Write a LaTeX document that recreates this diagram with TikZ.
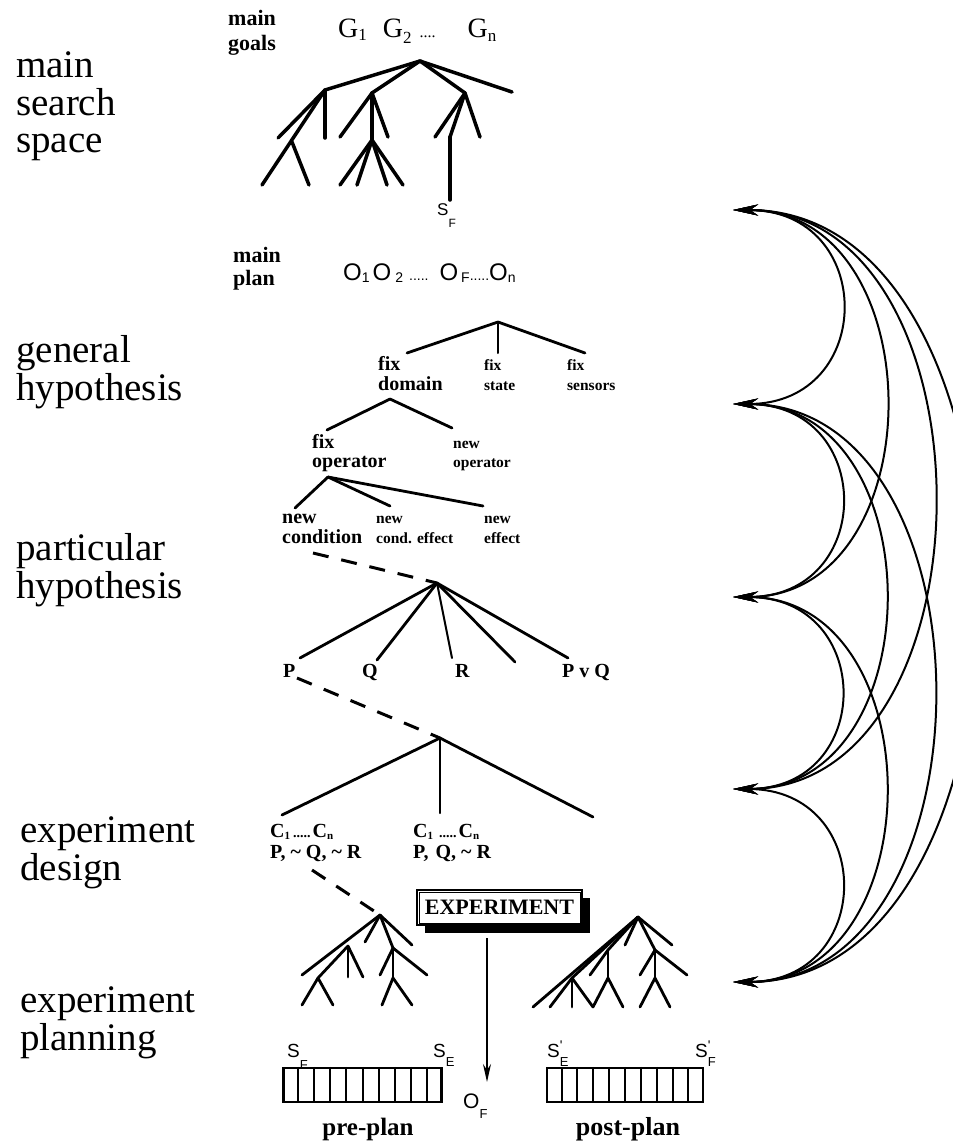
\documentclass[tikz,border=0pt]{standalone}
\usepackage{fontspec}
\setmainfont{Liberation Serif}
\newfontfamily\sansf{Liberation Sans}
\usetikzlibrary{arrows.meta,calc,shadows}
\newcommand\fs[2]{\fontsize{#1}{#2}\selectfont}
\newcommand\lo[3]{\raisebox{-#1}{\fs{#2}{#2}#3}}
\newcommand\stk[1]{\begin{tabular}[t]{@{}l@{}}#1\end{tabular}}
\begin{document}
\begin{tikzpicture}[x=1pt,y=-1pt,
  lbl/.style={anchor=base west,inner sep=0pt,font=\fs{39}{37}},
  bigb/.style={anchor=base west,inner sep=0pt,font=\bfseries\fs{20}{20}},
  smlb/.style={anchor=base west,inner sep=0pt,font=\bfseries\fs{15.5}{20}},
  sym/.style={anchor=base west,inner sep=0pt},
  tr/.style={line width=3.5pt,line cap=round},
  hy/.style={line width=2.8pt,line cap=round},
  thin/.style={line width=2pt,line cap=round},
  dsh/.style={line width=3pt,dash pattern=on 16pt off 13pt},
  arc/.style={line width=2pt,{Stealth[length=25pt,width=11pt]}-{Stealth[length=25pt,width=11pt]}},
  plan/.style={draw,line width=2.5pt,minimum width=158pt,minimum height=34pt,inner sep=0pt},
  expbox/.style={draw,line width=2pt,fill=white,minimum width=165pt,minimum height=35pt,inner sep=0pt,
    font=\bfseries\fs{22}{22},drop shadow={fill=black,opacity=1,shadow xshift=8pt,shadow yshift=-8pt}}]
\useasboundingbox (0,0) rectangle (953,1144);
\fill[white] (0,0) rectangle (953,1144);
\clip (0,0) rectangle (953,1144);

% ---------- left labels
\node[lbl] (lmain) at (16,77) {\stk{main\\search\\space}};
\node[lbl] (lgen) at (16,362) {\stk{general\\hypothesis}};
\node[lbl] (lpart) at (16,560) {\stk{particular\\hypothesis}};
\node[lbl] (lexd) at (20,842) {\stk{experiment\\design}};
\node[lbl] (lexp) at (20,1012) {\stk{experiment\\planning}};

% ---------- main search space
\node[sym,font=\bfseries\fs{22}{25}] (mgoals) at (228,25) {\stk{main\\goals}};
\node[sym,font=\fs{28}{28}] (gs) at (338,37) {G\lo{3pt}{17}{1}\hspace{16pt}G\lo{6pt}{17}{2}\hspace{8pt}{\fs{16}{16}....}\hspace{32pt}G\lo{4pt}{17}{n}};
\coordinate (t0) at (420,61);
\coordinate (ta) at (325,90); \coordinate (tc) at (372,93);
\coordinate (te) at (465,93); \coordinate (tr) at (512,92);
\coordinate (ta1) at (278,138); \coordinate (tb) at (292,142); \coordinate (ta3) at (325,138);
\coordinate (tb1) at (262,185); \coordinate (tb2) at (309,185);
\coordinate (tc1) at (340,137); \coordinate (td) at (372,140); \coordinate (tc3) at (388,137);
\coordinate (td1) at (340,185); \coordinate (td2) at (357,185); \coordinate (td3) at (387,185); \coordinate (td4) at (403,185);
\coordinate (te1) at (435,137); \coordinate (tf) at (450,137); \coordinate (te3) at (480,137);
\coordinate (tsf) at (450,200);
\draw[tr] (t0) -- (ta); \draw[tr] (t0) -- (tc); \draw[tr] (t0) -- (te); \draw[tr] (t0) -- (tr);
\draw[tr] (ta) -- (ta1); \draw[tr] (ta) -- (tb1); \draw[tr] (tb) -- (tb2); \draw[tr] (ta) -- (ta3);
\draw[tr] (tc) -- (tc1); \draw[tr] (tc) -- (td); \draw[tr] (tc) -- (tc3);
\draw[tr] (td) -- (td1); \draw[tr] (td) -- (td2); \draw[tr] (td) -- (td3); \draw[tr] (td) -- (td4);
\draw[tr] (te) -- (te1); \draw[tr] (te) -- (tf); \draw[tr] (te) -- (te3);
\draw[tr] (tf) -- (tsf);
\node[sym,font=\sansf\fs{17}{17}] (sF) at (437,215) {S\lo{12pt}{12}{F}};

% ---------- main plan
\node[sym,font=\bfseries\fs{22}{23}] (mplan) at (233,262) {\stk{main\\plan}};
\node[sym,font=\sansf\fs{24}{24}] (os) at (343,280) {O\lo{2pt}{14}{1}\hspace{3pt}O\hspace{4pt}\lo{2pt}{14}{2}\hspace{6pt}{\fs{14}{14}.....}\hspace{11pt}O\hspace{3pt}\lo{2pt}{14}{F}{\fs{14}{14}.....}O\lo{2pt}{14}{n}};

% ---------- general hypothesis
\coordinate (g0) at (498,322);
\coordinate (g1) at (407,353); \coordinate (g2) at (498,353); \coordinate (g3) at (585,353);
\draw[hy] (g0) -- (g1); \draw[thin] (g0) -- (g2); \draw[hy] (g0) -- (g3);
\node[bigb] (fdom) at (378,370) {\stk{fix\\domain}};
\node[smlb] (fsta) at (484,370) {\stk{fix\\state}};
\node[smlb] (fsen) at (567,370) {\stk{fix\\sensors}};
\coordinate (h0) at (390,399); \coordinate (h1) at (327,430); \coordinate (h2) at (452,428);
\draw[hy] (h0) -- (h1); \draw[hy] (h0) -- (h2);
\node[bigb,font=\bfseries\fs{20}{19}] (fop) at (312,448) {\stk{fix\\operator}};
\node[smlb,font=\bfseries\fs{15.5}{19}] (nop) at (453,448) {\stk{new\\operator}};
\coordinate (k0) at (328,477); \coordinate (k1) at (295,508); \coordinate (k2) at (390,506); \coordinate (k3) at (483,506);
\draw[hy] (k0) -- (k1); \draw[hy] (k0) -- (k2); \draw[hy] (k0) -- (k3);
\node[bigb] (ncond) at (282,523) {\stk{new\\condition}};
\node[smlb] (nce) at (376,523) {\stk{new\\cond. effect}};
\node[smlb] (neff) at (484,523) {\stk{new\\effect}};

% ---------- particular hypothesis
\coordinate (d1s) at (313,553); \coordinate (p0) at (437,583);
\draw[dsh] (d1s) -- (p0);
\coordinate (p1) at (300,658); \coordinate (p2) at (377,660); \coordinate (p3) at (452,658);
\coordinate (p4) at (515,662); \coordinate (p5) at (568,658);
\draw[hy] (p0) -- (p1); \draw[hy] (p0) -- (p2); \draw[thin] (p0) -- (p3); \draw[hy] (p0) -- (p4); \draw[hy] (p0) -- (p5);
\node[bigb] (nP) at (283,677) {P};
\node[bigb] (nQ) at (362,677) {Q};
\node[bigb] (nR) at (455,677) {R};
\node[bigb] (nPQ) at (562,677) {P v Q};

% ---------- experiment design
\coordinate (d2s) at (297,678); \coordinate (x0) at (440,738);
\draw[dsh] (d2s) -- (x0);
\coordinate (x1) at (282,815); \coordinate (x2) at (440,813); \coordinate (x3) at (593,817);
\draw[hy] (x0) -- (x1); \draw[thin] (x0) -- (x2); \draw[hy] (x0) -- (x3);
\node[bigb] (c1) at (270,837) {C\lo{2pt}{11}{1}\hspace{3pt}{\fs{14}{14}.....}\hspace{2pt}C\lo{2pt}{11}{n}};
\node[bigb] (c1b) at (270,858) {P, \textasciitilde\ Q, \textasciitilde\ R};
\node[bigb] (c2) at (413,837) {C\lo{2pt}{11}{1}\hspace{6pt}{\fs{14}{14}.....}\hspace{2pt}C\lo{2pt}{11}{n}};
\node[bigb] (c2b) at (413,858) {P,\hspace{7pt}Q, \textasciitilde\ R};

% ---------- experiment planning trees
\coordinate (d3s) at (312,870); \coordinate (L0) at (380,915);
\draw[dsh] (d3s) -- (L0);
\coordinate (La) at (365,942); \coordinate (Lb) at (412,945);
\coordinate (Ll) at (302,975); \coordinate (N1) at (348,946);
\coordinate (N1a) at (348,977); \coordinate (N1b) at (363,977);
\coordinate (N1c) at (318,978); \coordinate (N1c1) at (302,1005); \coordinate (N1c2) at (333,1005);
\coordinate (N2) at (393,948); \coordinate (N2a) at (380,975); \coordinate (N2b) at (427,975);
\coordinate (N2c) at (393,978); \coordinate (N2c1) at (382,1005); \coordinate (N2c2) at (412,1005);
\draw[hy] (L0) -- (La); \draw[hy] (L0) -- (Lb); \draw[hy] (L0) -- (Ll);
\draw[hy] (N1) -- (N1a); \draw[hy] (N1) -- (N1b); \draw[hy] (N1) -- (N1c);
\draw[hy] (N1c) -- (N1c1); \draw[hy] (N1c) -- (N1c2);
\draw[hy] (L0) -- (N2); \draw[hy] (N2) -- (N2a); \draw[hy] (N2) -- (N2b); \draw[hy] (N2) -- (N2c);
\draw[hy] (N2c) -- (N2c1); \draw[hy] (N2c) -- (N2c2);

\coordinate (R0) at (638,917);
\coordinate (Ra) at (625,945); \coordinate (Rb) at (672,945);
\coordinate (Rl) at (533,1007);
\coordinate (Q1) at (572,978); \coordinate (Q1a) at (550,1007); \coordinate (Q1b) at (572,1007); \coordinate (Q1c) at (593,1007);
\coordinate (M1) at (608,950); \coordinate (M1a) at (590,975); \coordinate (M1c) at (608,978);
\coordinate (M1c1) at (593,1007); \coordinate (M1c2) at (623,1007);
\coordinate (M2) at (655,950); \coordinate (M2a) at (640,975); \coordinate (M2b) at (687,975);
\coordinate (M2c) at (655,978); \coordinate (M2c1) at (640,1007); \coordinate (M2c2) at (670,1007);
\draw[hy] (R0) -- (Ra); \draw[hy] (R0) -- (Rb); \draw[hy] (R0) -- (Rl); \draw[hy] (R0) -- (Q1);
\draw[hy] (Q1) -- (Q1a); \draw[hy] (Q1) -- (Q1b); \draw[hy] (Q1) -- (Q1c);
\draw[hy] (R0) -- (M1); \draw[hy] (M1) -- (M1a); \draw[hy] (M1) -- (M1c);
\draw[hy] (M1c) -- (M1c1); \draw[hy] (M1c) -- (M1c2);
\draw[hy] (R0) -- (M2); \draw[hy] (M2) -- (M2a); \draw[hy] (M2) -- (M2b); \draw[hy] (M2) -- (M2c);
\draw[hy] (M2c) -- (M2c1); \draw[hy] (M2c) -- (M2c2);

% ---------- experiment box and arrow
\node[expbox] (exp) at (499.5,907.5) {EXPERIMENT};
\draw[line width=0.8pt] ([shift={(3,3)}]exp.north west) rectangle ([shift={(-3,-3)}]exp.south east);
\coordinate (arrS) at (487,938); \coordinate (arrE) at (487,1082);
\draw[line width=1.6pt,-{Stealth[length=18pt,width=8pt]}] (arrS) -- (arrE);
\node[sym,font=\sansf\fs{21}{21}] (oF) at (463,1108) {O\lo{10pt}{13}{F}};

% ---------- plans
\node[plan] (pre) at (362.5,1085) {};
\node[plan,minimum width=156pt] (post) at (625,1085) {};
\foreach \i in {1,...,9}{
  \draw[line width=2pt] ($(pre.north west)!\i/10!(pre.north east)$) -- ($(pre.south west)!\i/10!(pre.south east)$);
  \draw[line width=2pt] ($(post.north west)!\i/10!(post.north east)$) -- ($(post.south west)!\i/10!(post.south east)$);
}
\node[sym,font=\sansf\fs{19}{19}] (sf1) at (287,1057) {S\lo{12pt}{13}{F}};
\node[sym,font=\sansf\fs{19}{19}] (se1) at (433,1057) {S\lo{9pt}{13}{E}};
\node[sym,font=\sansf\fs{19}{19}] (se2) at (547,1057) {S\rlap{\raisebox{7pt}{\fs{14}{14}'}}\lo{9pt}{13}{E}};
\node[sym,font=\sansf\fs{19}{19}] (sf2) at (695,1057) {S\rlap{\raisebox{7pt}{\fs{14}{14}'}}\lo{9pt}{13}{F}};
\node[anchor=base,inner sep=0pt,font=\bfseries\fs{25}{25}] (lpre) at (368,1135) {pre-plan};
\node[anchor=base,inner sep=0pt,font=\bfseries\fs{26}{26}] (lpost) at (628,1135) {post-plan};

% ---------- arcs
\coordinate (a1) at (733,210); \coordinate (a2) at (733,404); \coordinate (a3) at (733,597);
\coordinate (a4) at (733,789); \coordinate (a5) at (733,982);
\draw[arc] (a1) to[out=0,in=0,looseness=1.9] (a2);
\draw[arc] (a2) to[out=0,in=0,looseness=1.9] (a3);
\draw[arc] (a3) to[out=0,in=0,looseness=1.9] (a4);
\draw[arc] (a4) to[out=0,in=0,looseness=1.9] (a5);
\draw[arc] (a1) to[out=0,in=0,looseness=1.34] (a3);
\draw[arc] (a2) to[out=0,in=0,looseness=1.34] (a4);
\draw[arc] (a3) to[out=0,in=0,looseness=1.34] (a5);
\draw[arc] (a1) to[out=0,in=0,looseness=1.18] (a4);
\draw[arc] (a2) to[out=0,in=0,looseness=1.18] (a5);
\draw[arc] (a1) to[out=0,in=0,looseness=1.07] (a5);
\end{tikzpicture}
\end{document}
